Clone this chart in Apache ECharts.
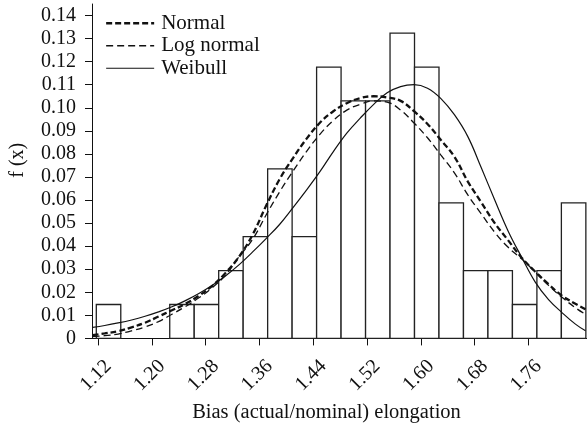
<!DOCTYPE html>
<html>
<head>
<meta charset="utf-8">
<script src="https://cdn.jsdelivr.net/npm/echarts@6/dist/echarts.min.js"></script>
<style>html,body{margin:0;padding:0;background:#fff;}#c{width:587px;height:428px;}</style>
</head>
<body>
<div id="c"></div>
<script>
// Histogram bins (left edge, right edge) and relative frequency heights
const binLeft  = [1.1175,1.1539,1.1903,1.2267,1.2631,1.2995,1.3359,1.3723,1.4087,1.4451,1.4815,1.5179,1.5543,1.5907,1.6271,1.6635,1.6999,1.7363,1.7727,1.8091];
const binRight = [1.1539,1.1903,1.2267,1.2631,1.2995,1.3359,1.3723,1.4087,1.4451,1.4815,1.5179,1.5543,1.5907,1.6271,1.6635,1.6999,1.7363,1.7727,1.8091,1.8455];
const binHeight = [0.0147,0,0,0.0147,0.0147,0.0294,0.0441,0.0735,0.0441,0.1176,0.1030,0.1030,0.1324,0.1176,0.0588,0.0294,0.0294,0.0147,0.0294,0.0588];

// Fitted curves
const curveX = [1.112,1.13,1.15,1.17,1.19,1.21,1.23,1.25,1.27,1.29,1.31,1.33,1.35,1.37,1.39,1.41,1.43,1.45,1.47,1.49,1.51,1.53,1.55,1.57,1.59,1.61,1.63,1.65,1.67,1.69,1.71,1.73,1.75,1.77,1.79,1.81,1.83,1.845];
const normalY = [0.0014,0.0022,0.0031,0.0048,0.0068,0.0095,0.0122,0.0150,0.0185,0.0228,0.0285,0.0355,0.0450,0.0575,0.0690,0.0782,0.0865,0.0935,0.0985,0.1020,0.1042,0.1050,0.1045,0.1030,0.0985,0.0930,0.0860,0.0788,0.0680,0.0590,0.0500,0.0425,0.0350,0.0290,0.0235,0.0185,0.0150,0.0126];
const lognormalY = [0.0008,0.0012,0.0019,0.0033,0.0050,0.0073,0.0105,0.0138,0.0176,0.0220,0.0275,0.0355,0.0430,0.0535,0.0635,0.0725,0.0810,0.0885,0.0945,0.0990,0.1015,0.1030,0.1025,0.0990,0.0934,0.0870,0.0795,0.0718,0.0622,0.0540,0.0460,0.0395,0.0345,0.0288,0.0230,0.0178,0.0133,0.0104];
const weibullY = [0.0048,0.0056,0.0067,0.0080,0.0096,0.0115,0.0137,0.0164,0.0195,0.0231,0.0272,0.0320,0.0375,0.0433,0.0494,0.0567,0.0643,0.0723,0.0810,0.0890,0.0955,0.1015,0.1065,0.1092,0.1100,0.1085,0.1040,0.0970,0.0875,0.0740,0.0600,0.0465,0.0352,0.0245,0.0168,0.0112,0.0062,0.0033];

const xTicks = [1.12,1.20,1.28,1.36,1.44,1.52,1.60,1.68,1.76];
const yTicks = [0,0.01,0.02,0.03,0.04,0.05,0.06,0.07,0.08,0.09,0.10,0.11,0.12,0.13,0.14];
const seriesNames = ['Normal','Log normal','Weibull'];

const FONT = '"Liberation Serif", "Times New Roman", serif';
const zip = (xs, ys) => xs.map((x, i) => [x, ys[i]]);

const lineStyles = {
  'Normal':     {color: '#111', width: 2.3, type: [6, 3]},
  'Log normal': {color: '#111', width: 1.3, type: [7, 4]},
  'Weibull':    {color: '#111', width: 1.2, type: 'solid'}
};

const chart = echarts.init(document.getElementById('c'), null, {renderer: 'canvas'});
chart.setOption({
  animation: false,
  backgroundColor: '#fff',
  color: ['#111', '#111', '#111', '#111'],
  grid: {left: 89, right: 0, top: 4, bottom: 87, containLabel: false},
  legend: {
    data: seriesNames.map(n => ({name: n, lineStyle: lineStyles[n]})),
    orient: 'vertical',
    left: 100, top: 7,
    itemWidth: 48, itemHeight: 14, itemGap: 0,
    itemStyle: {opacity: 0},
    textStyle: {fontFamily: FONT, fontSize: 21, lineHeight: 22.5, color: '#111', padding: [0,0,0,2]},
    selectedMode: false
  },
  xAxis: {
    type: 'value',
    min: 1.1111, max: 1.8472,
    axisLine: {onZero: true, lineStyle: {color: '#111', width: 1}},
    axisTick: {show: true, length: 7, customValues: xTicks, lineStyle: {color: '#111'}},
    axisLabel: {
      customValues: xTicks, rotate: 45, margin: 35,
      align: 'center', verticalAlign: 'middle',
      fontFamily: FONT, fontSize: 20, color: '#111',
      padding: [0, 6, 0, 0],
      formatter: v => v.toFixed(2)
    },
    splitLine: {show: false},
    name: 'Bias (actual/nominal) elongation',
    nameLocation: 'middle', nameGap: 62,
    nameTextStyle: {fontFamily: FONT, fontSize: 20.5, color: '#111', padding: [0, 26, 0, 0]}
  },
  yAxis: {
    type: 'value',
    min: 0, max: 0.145,
    axisLine: {show: true, lineStyle: {color: '#111', width: 1}},
    axisTick: {show: true, length: 7, customValues: yTicks, lineStyle: {color: '#111'}},
    axisLabel: {
      customValues: yTicks, margin: 16,
      fontFamily: FONT, fontSize: 20, color: '#111',
      formatter: v => (v === 0 ? '0' : v.toFixed(2))
    },
    splitLine: {show: false},
    name: 'f (x)',
    nameLocation: 'middle', nameGap: 64, nameRotate: 90,
    nameTextStyle: {fontFamily: FONT, fontSize: 20, color: '#111', padding: [0, 0, 0, 22]}
  },
  series: [
    {
      type: 'custom',
      name: 'hist',
      data: binLeft.map((l, i) => [l, binRight[i], binHeight[i]]),
      encode: {x: [0, 1], y: 2},
      z: 1,
      renderItem: function (params, api) {
        const h = api.value(2);
        if (!h) return null;
        const p0 = api.coord([api.value(0), h]);
        const p1 = api.coord([api.value(1), 0]);
        return {
          type: 'rect',
          shape: {x: p0[0], y: p0[1], width: p1[0] - p0[0], height: p1[1] - p0[1]},
          style: {fill: '#fff', stroke: '#222', lineWidth: 1.3}
        };
      }
    },
    {
      type: 'line', name: 'Normal', data: zip(curveX, normalY),
      smooth: 0.4, symbol: 'none', z: 3,
      itemStyle: {color: '#111'},
      lineStyle: lineStyles['Normal']
    },
    {
      type: 'line', name: 'Log normal', data: zip(curveX, lognormalY),
      smooth: 0.4, symbol: 'none', z: 3,
      itemStyle: {color: '#111'},
      lineStyle: lineStyles['Log normal']
    },
    {
      type: 'line', name: 'Weibull', data: zip(curveX, weibullY),
      smooth: 0.4, symbol: 'none', z: 3,
      itemStyle: {color: '#111'},
      lineStyle: lineStyles['Weibull']
    }
  ]
});
</script>
</body>
</html>
